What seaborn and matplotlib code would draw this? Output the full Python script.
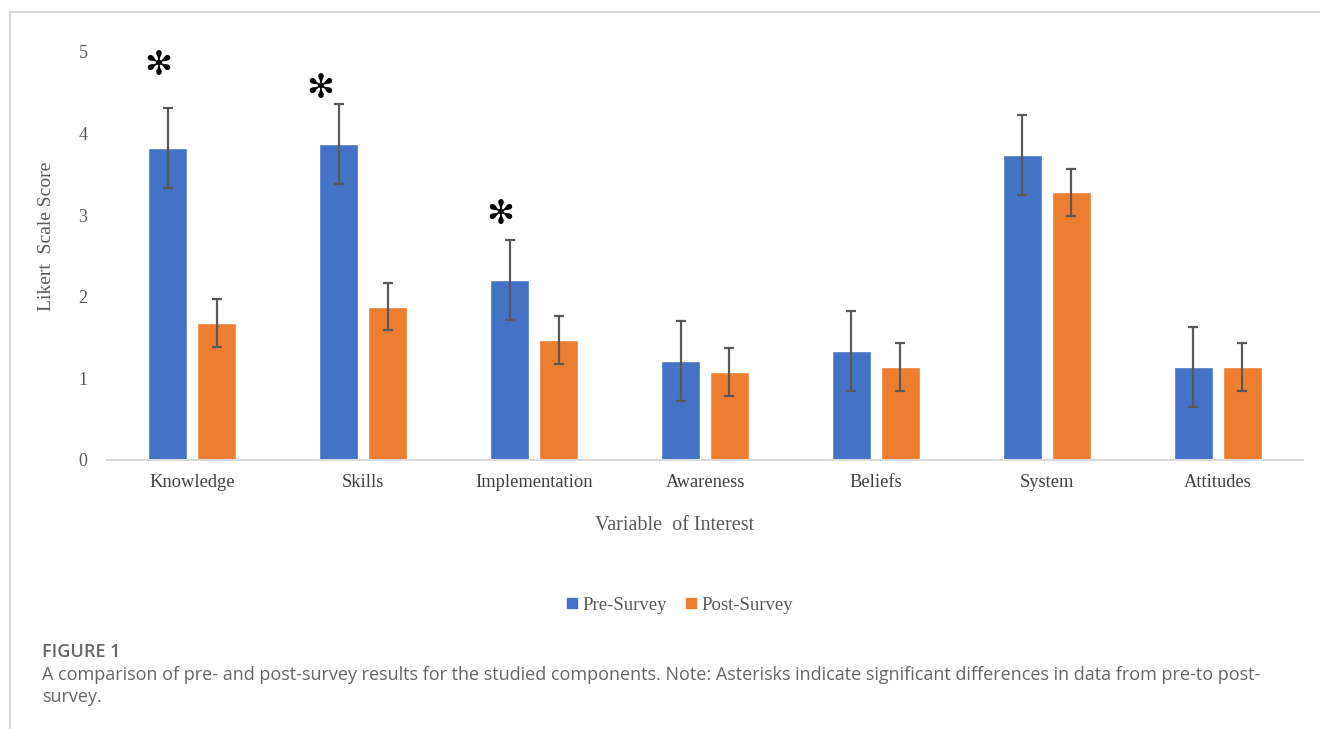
import matplotlib
matplotlib.use("Agg")
import matplotlib.pyplot as plt
from matplotlib.lines import Line2D
import seaborn as sns
import pandas as pd
import numpy as np

# ---- data ----
categories = ["Knowledge", "Skills", "Implementation", "Awareness", "Beliefs", "System", "Attitudes"]
pre_values = [3.82, 3.87, 2.21, 1.21, 1.34, 3.74, 1.14]
post_values = [1.68, 1.88, 1.47, 1.08, 1.14, 3.28, 1.14]
pre_err = [0.49, 0.49, 0.49, 0.49, 0.49, 0.49, 0.49]
post_err = [0.29, 0.29, 0.29, 0.29, 0.29, 0.29, 0.29]
series = ["Pre-Survey", "Post-Survey"]
significant = ["Knowledge", "Skills", "Implementation"]
# annotation anchor positions for the significance asterisks (data units)
sig_x = [-0.20, 0.75, 1.80]
sig_y = [4.83, 4.55, 3.01]
y_ticks = [0, 1, 2, 3, 4, 5]

BLUE = "#4472C4"
ORANGE = "#ED7D31"
GRAY = "#595959"

df = pd.DataFrame({
    "Variable": categories * 2,
    "Score": pre_values + post_values,
    "Survey": [series[0]] * len(categories) + [series[1]] * len(categories),
})

sns.set_theme(style="white")
plt.rcParams["font.family"] = ["Liberation Serif", "DejaVu Serif"]

fig = plt.figure(figsize=(13.2, 7.29), dpi=100)
ax = fig.add_axes([107 / 1320, 1 - 460 / 729, (1303 - 107) / 1320, (460 - 52) / 729])

sns.barplot(data=df, x="Variable", y="Score", hue="Survey", order=categories,
            hue_order=series, palette=[BLUE, ORANGE], width=0.573, gap=0.204,
            errorbar=None, ax=ax, legend=False, saturation=1)

errs = [pre_err, post_err]
for cont, e in zip(ax.containers, errs):
    xs = [b.get_x() + b.get_width() / 2 for b in cont]
    hs = [b.get_height() for b in cont]
    ax.errorbar(xs, hs, yerr=e, fmt="none", ecolor=GRAY, elinewidth=1.6,
                capsize=3.5, capthick=1.6, zorder=3)

for cat, x, y in zip(significant, sig_x, sig_y):
    ax.text(x, y, "\u273B", fontsize=24, family="DejaVu Sans",
            ha="center", va="center", color="black")

ax.set_xlim(-0.5, len(categories) - 0.5)
ax.set_ylim(0, 5)
ax.set_yticks(y_ticks)
ax.set_yticklabels([str(t) for t in y_ticks])
for s in ["top", "right", "left"]:
    ax.spines[s].set_visible(False)
ax.spines["bottom"].set_color("#D9D9D9")
ax.spines["bottom"].set_linewidth(1.5)
ax.tick_params(axis="y", length=0, pad=14, labelsize=13, labelcolor=GRAY)
ax.tick_params(axis="x", length=0, pad=10, labelsize=13.3, labelcolor="#404040")
ax.set_xlabel("")
ax.set_ylabel("")

fig.text(675 / 1320, 1 - 525 / 729, "Variable  of Interest", ha="center", va="center",
         fontsize=14.5, color=GRAY)
fig.text(47 / 1320, 1 - 236 / 729, "Likert  Scale Score", ha="center", va="center",
         rotation=90, fontsize=14, color=GRAY)

handles = [Line2D([], [], marker="s", linestyle="none", markersize=6.5, color=c) for c in [BLUE, ORANGE]]
leg = fig.legend(handles, series, loc="center", bbox_to_anchor=(680 / 1320, 1 - 605 / 729),
                 ncol=2, frameon=False, fontsize=13.5, handlelength=0.6, handletextpad=0.25,
                 columnspacing=1.0)
for t in leg.get_texts():
    t.set_color(GRAY)

# page frame lines
fig.add_artist(Line2D([10 / 1320, 1], [1 - 12 / 729, 1 - 12 / 729], color="#D9D9D9", lw=1.5))
fig.add_artist(Line2D([10 / 1320, 10 / 1320], [0, 1 - 12 / 729], color="#D9D9D9", lw=1.5))

cap_font = ["Open Sans", "DejaVu Sans"]
fig.text(42 / 1320, 1 - 652 / 729, "FIGURE 1", ha="left", va="center", fontsize=13,
         color="#666666", family=cap_font, fontweight="semibold")
fig.text(42 / 1320, 1 - 675 / 729,
         "A comparison of pre- and post-survey results for the studied components. Note: Asterisks indicate significant differences in data from pre-to post-",
         ha="left", va="center", fontsize=13, color="#666666", family=cap_font)
fig.text(42 / 1320, 1 - 697 / 729, "survey.", ha="left", va="center", fontsize=13,
         color="#666666", family=cap_font)

fig.savefig("out.png", dpi=100, facecolor="white")
